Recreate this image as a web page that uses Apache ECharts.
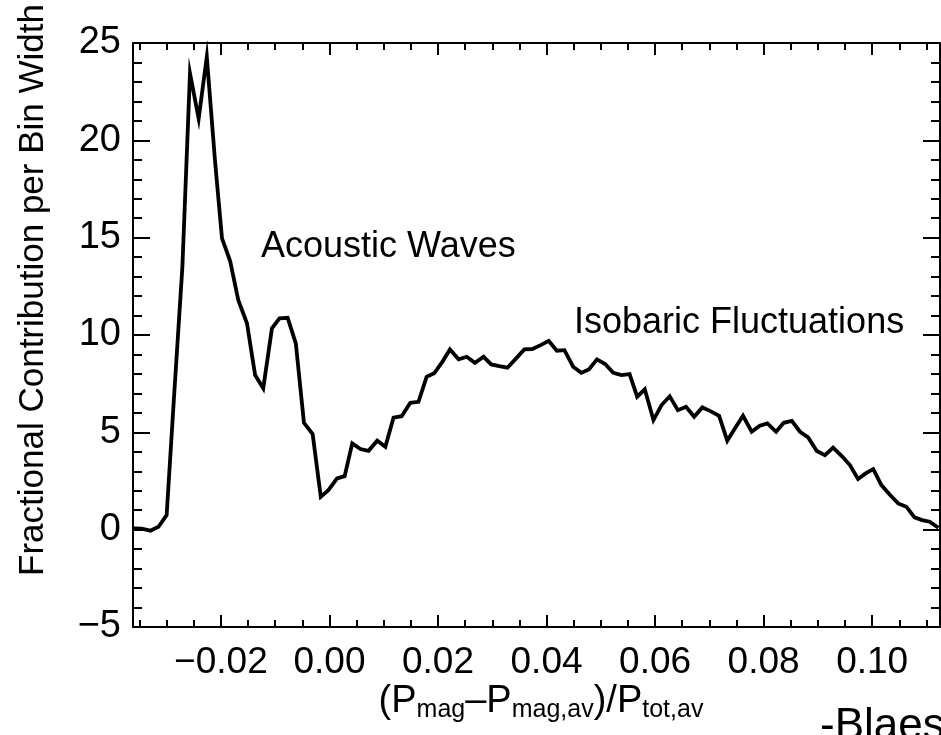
<!DOCTYPE html>
<html>
<head>
<meta charset="utf-8">
<style>
  html, body { margin: 0; padding: 0; background: #fff; }
  #chart { width: 941px; height: 735px; }
</style>
<script src="https://cdn.jsdelivr.net/npm/echarts@6/dist/echarts.min.js"></script>
</head>
<body>
<div id="chart"></div>
<script>
// ---- data ----
const xValues = [
  -0.0361, -0.0346, -0.0330, -0.0315, -0.0300, -0.0286, -0.0271, -0.0257, -0.0241, -0.0226,
  -0.0211, -0.0198, -0.0183, -0.0168, -0.0152, -0.0137, -0.0122, -0.0106, -0.0092, -0.0077,
  -0.0062, -0.0047, -0.0031, -0.0016, -0.0002, 0.0014, 0.0028, 0.0042, 0.0057, 0.0072,
  0.0088, 0.0103, 0.0118, 0.0133, 0.0149, 0.0164, 0.0179, 0.0193, 0.0208, 0.0222,
  0.0238, 0.0253, 0.0268, 0.0284, 0.0298, 0.0313, 0.0328, 0.0344, 0.0359, 0.0374,
  0.0389, 0.0404, 0.0419, 0.0433, 0.0449, 0.0464, 0.0478, 0.0493, 0.0508, 0.0523,
  0.0538, 0.0553, 0.0567, 0.0581, 0.0597, 0.0612, 0.0627, 0.0642, 0.0657, 0.0672,
  0.0687, 0.0702, 0.0718, 0.0733, 0.0747, 0.0762, 0.0778, 0.0793, 0.0807, 0.0823,
  0.0837, 0.0852, 0.0867, 0.0882, 0.0898, 0.0913, 0.0928, 0.0944, 0.0959, 0.0974,
  0.0988, 0.1002, 0.1017, 0.1033, 0.1048, 0.1063, 0.1078, 0.1092, 0.1106, 0.1122
];
const yValues = [
  0.07, 0.05, -0.05, 0.15, 0.75, 7.0, 13.5, 23.44, 21.12, 24.29,
  18.98, 14.96, 13.8, 11.79, 10.6, 7.94, 7.26, 10.34, 10.85, 10.88,
  9.57, 5.49, 4.91, 1.69, 2.03, 2.63, 2.75, 4.43, 4.14, 4.05,
  4.57, 4.26, 5.75, 5.83, 6.52, 6.57, 7.85, 8.03, 8.62, 9.26,
  8.75, 8.88, 8.57, 8.88, 8.49, 8.40, 8.32, 8.80, 9.26, 9.28,
  9.48, 9.70, 9.19, 9.22, 8.37, 8.06, 8.23, 8.75, 8.51, 8.06,
  7.94, 7.99, 6.83, 7.21, 5.63, 6.40, 6.85, 6.14, 6.31, 5.80,
  6.28, 6.09, 5.85, 4.57, 5.20, 5.85, 5.03, 5.34, 5.46, 5.03,
  5.49, 5.59, 5.03, 4.74, 4.04, 3.83, 4.21, 3.78, 3.32, 2.60,
  2.89, 3.11, 2.29, 1.78, 1.35, 1.18, 0.63, 0.49, 0.41, 0.10
];
const xMajorTicks = [-0.02, 0.00, 0.02, 0.04, 0.06, 0.08, 0.10];
const xMinorTicks = [-0.035, -0.03, -0.025, -0.015, -0.01, -0.005, 0.005, 0.01, 0.015,
  0.025, 0.03, 0.035, 0.045, 0.05, 0.055, 0.065, 0.07, 0.075, 0.085, 0.09, 0.095, 0.105, 0.11];
const yMin = -5, yMax = 25, yInterval = 5;
const xMin = -0.0362, xMax = 0.1125;
const annotations = ['Acoustic Waves', 'Isobaric Fluctuations'];
const yTitle = 'Fractional Contribution per Bin Width';

const FONT = '"Liberation Sans", Arial, Helvetica, sans-serif';
const fmtSigned = (v, d) => (v < -1e-9 ? '\u2212' : '') + Math.abs(v).toFixed(d);

const chart = echarts.init(document.getElementById('chart'), null, { renderer: 'canvas' });

const gridRect = { left: 133, right: 1, top: 43, bottom: 108 };
const lineStyle = { color: '#000', width: 2 };

function xAxisMajor(pos, showLabel) {
  return {
    type: 'value', gridIndex: 0, position: pos, min: xMin, max: xMax,
    axisLine: { show: true, onZero: false, lineStyle },
    axisTick: { show: true, inside: true, length: 12, lineStyle, customValues: xMajorTicks },
    axisLabel: {
      show: showLabel, customValues: xMajorTicks, margin: 17,
      color: '#000', fontFamily: FONT, fontSize: 37,
      formatter: v => fmtSigned(v, 2)
    },
    splitLine: { show: false }
  };
}
function xAxisMinor(pos) {
  return {
    type: 'value', gridIndex: 1, position: pos, min: xMin, max: xMax,
    axisLine: { show: false, onZero: false },
    axisTick: { show: true, inside: true, length: 7, lineStyle, customValues: xMinorTicks },
    axisLabel: { show: false },
    splitLine: { show: false }
  };
}
function yAxisMajor(pos, showLabel) {
  return {
    type: 'value', gridIndex: 0, position: pos, min: yMin, max: yMax, interval: yInterval,
    axisLine: { show: true, onZero: false, lineStyle },
    axisTick: { show: true, inside: true, length: 17, lineStyle },
    minorTick: { show: true, splitNumber: 5, length: 9, lineStyle },
    axisLabel: {
      show: showLabel, margin: 12, color: '#000', fontFamily: FONT, fontSize: 38,
      formatter: v => fmtSigned(v, 0)
    },
    splitLine: { show: false }, minorSplitLine: { show: false }
  };
}

const seriesData = xValues.map((x, i) => [x, yValues[i]]);

chart.setOption({
  animation: false,
  backgroundColor: '#fff',
  grid: [Object.assign({}, gridRect), Object.assign({}, gridRect)],
  xAxis: [xAxisMajor('bottom', true), xAxisMajor('top', false), xAxisMinor('bottom'), xAxisMinor('top')],
  yAxis: [yAxisMajor('left', true), yAxisMajor('right', false),
    { type: 'value', gridIndex: 1, min: yMin, max: yMax, show: false }],
  series: [{
    type: 'line', xAxisIndex: 0, yAxisIndex: 0, data: seriesData,
    showSymbol: false, symbol: 'none', smooth: false,
    lineStyle: { color: '#000', width: 3.8, join: 'miter' },
    z: 5
  }, {
    type: 'line', xAxisIndex: 2, yAxisIndex: 2, data: [], showSymbol: false
  }],
  graphic: [
    { type: 'text', left: 261, top: 229, style: { text: annotations[0], font: '36px ' + FONT, fill: '#000' } },
    { type: 'text', left: 574, top: 305, style: { text: annotations[1], font: '36px ' + FONT, fill: '#000' } },
    { type: 'text', x: 33, y: 290, rotation: Math.PI / 2,
      style: { text: yTitle, font: '35px ' + FONT, fill: '#000', align: 'center', verticalAlign: 'middle' } },
    { type: 'text', x: 541, y: 702,
      style: {
        text: '(P{s|mag}\u2013P{s|mag,av})/P{s|tot,av}',
        font: '38px ' + FONT, fill: '#000', align: 'center', verticalAlign: 'middle',
        lineHeight: 42,
        rich: { s: { font: '25px ' + FONT, fill: '#000', lineHeight: 16, verticalAlign: 'bottom' } }
      } },
    { type: 'text', x: 820, y: 727,
      style: { text: '-Blaes', font: '44px ' + FONT, fill: '#000', align: 'left', verticalAlign: 'middle' } }
  ]
});
</script>
</body>
</html>
